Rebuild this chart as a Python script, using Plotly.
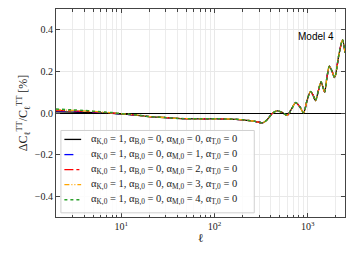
import plotly.graph_objects as go

# multipole moments
ell = [2, 3, 4, 5, 6, 8, 10, 15, 20, 30, 40, 60, 100, 150, 200, 270, 330, 370, 420,
       470, 530, 600, 670, 740, 820, 900, 980, 1066, 1140, 1205, 1300, 1384, 1450,
       1514, 1600, 1700, 1820, 1936, 2150, 2355, 2500]

# shared high-ell part (identical for all models)
common_tail = [-0.017, -0.022, -0.026, -0.028, -0.028, -0.029, -0.033, -0.040, -0.047, -0.030, 0.000,
               0.010, 0.003, -0.011, 0.020, 0.050, 0.030, 0.001, 0.060, 0.103, 0.085,
               0.059, 0.110, 0.150, 0.125, 0.100, 0.170, 0.225, 0.200, 0.170, 0.280, 0.352, 0.290]

low_black = [0.006, 0.004, 0.003, 0.002, 0.001, -0.002, -0.005, -0.011]
low_blue = [0.010, 0.008, 0.006, 0.004, 0.002, -0.001, -0.005, -0.011]
low_red = [0.012, 0.010, 0.008, 0.006, 0.004, 0.000, -0.004, -0.011]
low_orange = [0.016, 0.013, 0.010, 0.008, 0.005, 0.001, -0.003, -0.010]
low_green = [0.019, 0.015, 0.012, 0.009, 0.006, 0.002, -0.003, -0.010]

series_names = [
    "α<sub>K,0</sub> = 1, α<sub>B,0</sub> = 0, α<sub>M,0</sub> = 0, α<sub>T,0</sub> = 0",
    "α<sub>K,0</sub> = 1, α<sub>B,0</sub> = 0, α<sub>M,0</sub> = 1, α<sub>T,0</sub> = 0",
    "α<sub>K,0</sub> = 1, α<sub>B,0</sub> = 0, α<sub>M,0</sub> = 2, α<sub>T,0</sub> = 0",
    "α<sub>K,0</sub> = 1, α<sub>B,0</sub> = 0, α<sub>M,0</sub> = 3, α<sub>T,0</sub> = 0",
    "α<sub>K,0</sub> = 1, α<sub>B,0</sub> = 0, α<sub>M,0</sub> = 4, α<sub>T,0</sub> = 0",
]
series_low = [low_black, low_blue, low_red, low_orange, low_green]
colors = ["black", "blue", "red", "orange", "#2ca02c"]
dashes = ["solid", "dash", "dashdot", "5px,2px,1px,2px,1px,2px", "dot"]
widths = [1.3, 1.3, 1.3, 1.3, 1.5]

xtick_vals = [10, 100, 1000]
xtick_text = ["10<sup>1</sup>", "10<sup>2</sup>", "10<sup>3</sup>"]
ytick_vals = [-0.4, -0.2, 0.0, 0.2, 0.4]

serif = "Liberation Serif"

fig = go.Figure()
for name, low, c, d, w in zip(series_names, series_low, colors, dashes, widths):
    fig.add_trace(go.Scatter(
        x=ell, y=low + common_tail, mode="lines", name=name, showlegend=False,
        line=dict(color=c, dash=d, width=w, shape="spline", smoothing=0.8),
    ))

# hand-built legend (matplotlib-style compact box)
leg_x0, leg_x1, leg_y0, leg_y1 = 0.017, 0.686, 0.02, 0.416
row_y = [0.373, 0.300, 0.228, 0.156, 0.083]
fig.add_shape(type="rect", xref="paper", yref="paper",
              x0=leg_x0, x1=leg_x1, y0=leg_y0, y1=leg_y1,
              line=dict(color="#d0d0d0", width=1), fillcolor="rgba(255,255,255,0.85)",
              layer="above")
for name, c, d, w, yy in zip(series_names, colors, dashes, widths, row_y):
    fig.add_shape(type="line", xref="paper", yref="paper",
                  x0=0.029, x1=0.087, y0=yy, y1=yy,
                  line=dict(color=c, dash=d, width=w), layer="above")
    fig.add_annotation(text=name, xref="paper", yref="paper", x=0.113, y=yy,
                       xanchor="left", yanchor="middle", showarrow=False,
                       font=dict(family=serif, size=10.5, color="#222"))

fig.add_annotation(
    text="Model 4", xref="paper", yref="paper", x=0.97, y=0.87,
    xanchor="right", yanchor="middle", showarrow=False,
    font=dict(family="Liberation Sans", size=10, color="black"),
)

axis_common = dict(
    showline=True, linecolor="#444", linewidth=1, mirror="ticks",
    ticks="inside", tickcolor="#444", ticklen=4, tickwidth=1,
    showgrid=True, gridcolor="#e8e8e8", gridwidth=0.8, automargin=False,
    tickfont=dict(family=serif, size=10, color="#222"),
)

# the page body has an 8px default margin, so the figure is sized to fit inside it
fig.update_layout(
    width=338, height=237,
    margin=dict(l=48, r=1, t=1, b=28),
    plot_bgcolor="white", paper_bgcolor="white",
    showlegend=False,
    xaxis=dict(
        type="log", range=[0.30103, 3.39794],
        tickvals=xtick_vals, ticktext=xtick_text,
        title=dict(text="ℓ", font=dict(family=serif, size=12, color="#222"), standoff=2),
        minor=dict(ticks="inside", ticklen=2.5, tickcolor="#444", showgrid=True,
                   gridcolor="#ececec", gridwidth=0.8, dtick="D1"),
        **axis_common,
    ),
    yaxis=dict(
        range=[-0.5, 0.5], tickvals=ytick_vals, tickformat=".1f",
        zeroline=True, zerolinecolor="black", zerolinewidth=1.2,
        title=dict(text="ΔC<sub>ℓ</sub><sup>TT</sup>/C<sub>ℓ</sub><sup>TT</sup> [%]",
                   font=dict(family=serif, size=12, color="#222"), standoff=4),
        **axis_common,
    ),
)

fig.write_html("out.html")
